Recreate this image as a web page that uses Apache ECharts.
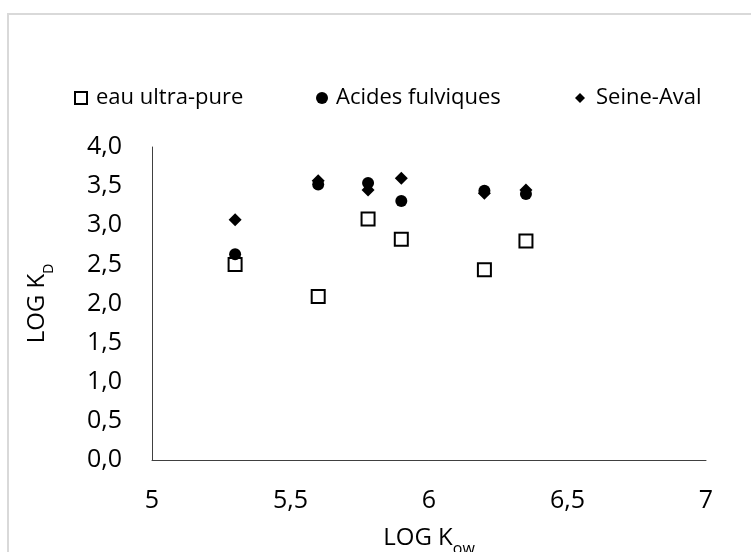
<!DOCTYPE html>
<html>
<head>
<meta charset="utf-8">
<script src="https://cdn.jsdelivr.net/npm/echarts@6/dist/echarts.min.js"></script>
<style>html,body{margin:0;padding:0;background:#fff;}#c{width:751px;height:552px;}</style>
</head>
<body>
<div id="c"></div>
<script>
var logKow = [5.3, 5.6, 5.78, 5.9, 6.2, 6.35];
var eauUltraPure = [2.50, 2.09, 3.08, 2.82, 2.43, 2.80];
var acidesFulviques = [2.63, 3.52, 3.54, 3.31, 3.44, 3.40];
var seineAval = [3.07, 3.57, 3.45, 3.60, 3.41, 3.45];
var seriesNames = ['eau ultra-pure', 'Acides fulviques', 'Seine-Aval'];

function pairs(ys) { return logKow.map(function (x, i) { return [x, ys[i]]; }); }
var FONT = 'Open Sans';
var chart = echarts.init(document.getElementById('c'), null, {renderer: 'canvas'});
function leg(name, left, icon, w, h, pad, style) {
  return {
    data: [{name: name, icon: icon, itemStyle: style}], left: left, top: 87, orient: 'horizontal',
    padding: 0, itemWidth: w, itemHeight: h, itemGap: 0, selectedMode: false,
    textStyle: {fontFamily: FONT, fontSize: 22, color: '#000', padding: [0, 0, 0, pad]}
  };
}
chart.setOption({
  animation: false,
  backgroundColor: '#fff',
  graphic: [{type: 'rect', shape: {x: 8, y: 14, width: 800, height: 600}, style: {fill: 'none', stroke: '#d9d9d9', lineWidth: 2}, z: -1}],
  legend: [
    leg(seriesNames[0], 74, 'rect', 12, 12, 4, {color: '#fff', borderColor: '#000', borderWidth: 2, opacity: 1}),
    leg(seriesNames[1], 316, 'circle', 12, 12, 3, {color: '#000', opacity: 1}),
    leg(seriesNames[2], 575, 'diamond', 10, 10, 6, {color: '#000', opacity: 1})
  ],
  grid: {left: 152, right: 45, top: 147, bottom: 92, containLabel: false, outerBoundsMode: 'none'},
  xAxis: {
    type: 'value', min: 5, max: 7, interval: 0.5,
    axisLine: {show: true, lineStyle: {color: '#404040', width: 1}},
    axisTick: {show: false}, splitLine: {show: false},
    axisLabel: {margin: 28, fontFamily: FONT, fontSize: 25, color: '#000',
      formatter: function (v) { return String(v).replace('.', ','); }},
    name: 'LOG K{s|ow}', nameLocation: 'middle', nameGap: 63,
    nameTextStyle: {fontFamily: FONT, fontSize: 24, color: '#000', lineHeight: 30,
      rich: {s: {fontFamily: FONT, fontSize: 16, color: '#000', verticalAlign: 'bottom', lineHeight: 20, padding: [0, 0, -4, 0]}}}
  },
  yAxis: {
    type: 'value', min: 0, max: 4, interval: 0.5,
    axisLine: {show: true, lineStyle: {color: '#404040', width: 1}},
    axisTick: {show: false}, splitLine: {show: false},
    axisLabel: {margin: 30, fontFamily: FONT, fontSize: 25, color: '#000',
      formatter: function (v) { return v.toFixed(1).replace('.', ','); }},
    name: 'LOG K{s|D}', nameLocation: 'middle', nameGap: 100,
    nameTextStyle: {fontFamily: FONT, fontSize: 24, color: '#000', lineHeight: 30,
      rich: {s: {fontFamily: FONT, fontSize: 14, color: '#000', verticalAlign: 'bottom', lineHeight: 20, padding: [0, 0, -4, 0]}}}
  },
  series: [
    {name: seriesNames[0], type: 'scatter', symbol: 'rect', symbolSize: 13, data: pairs(eauUltraPure),
      itemStyle: {color: '#fff', borderColor: '#000', borderWidth: 2, opacity: 1}},
    {name: seriesNames[1], type: 'scatter', symbol: 'circle', symbolSize: 12, data: pairs(acidesFulviques),
      itemStyle: {color: '#000', opacity: 1}},
    {name: seriesNames[2], type: 'scatter', symbol: 'diamond', symbolSize: 13, data: pairs(seineAval),
      itemStyle: {color: '#000', opacity: 1}, z: 1}
  ]
});
</script>
</body>
</html>
